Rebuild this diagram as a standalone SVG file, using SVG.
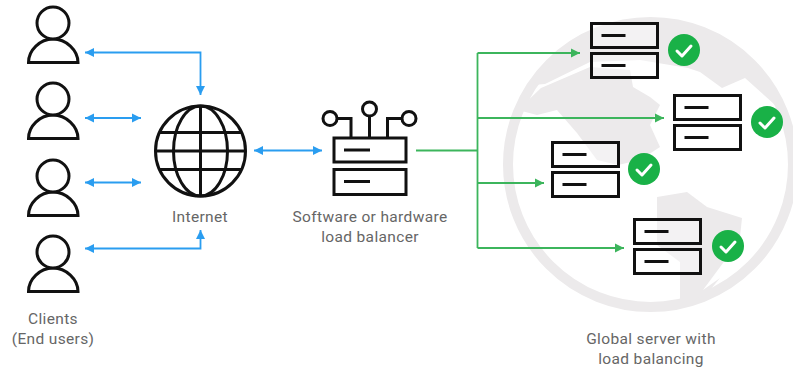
<svg xmlns="http://www.w3.org/2000/svg" width="793" height="370" viewBox="0 0 793 370">
<style>
.k{fill:none;stroke:#111;stroke-width:3}
.kf{fill:#fff;fill-opacity:.4;stroke:#111;stroke-width:3}
.b{fill:none;stroke:#2a9df0;stroke-width:1.8}
.g{fill:none;stroke:#3cb55c;stroke-width:1.8}
.t{font-family:Roboto,"Liberation Sans",sans-serif;font-size:15.5px;fill:#666;text-anchor:middle;letter-spacing:.35px}
.c{fill:#19b147}
.w{fill:none;stroke:#fff;stroke-width:3;stroke-linecap:round;stroke-linejoin:round}
.land{fill:#eceaeb}
</style>
<defs>
<marker id="ab" viewBox="0 0 10 10" refX="10" refY="5" markerWidth="9" markerHeight="10" markerUnits="userSpaceOnUse" orient="auto-start-reverse"><path d="M0 0L10 5L0 10Z" fill="#2a9df0"/></marker>
<marker id="ag" viewBox="0 0 10 10" refX="10" refY="5" markerWidth="9" markerHeight="10" markerUnits="userSpaceOnUse" orient="auto"><path d="M0 0L10 5L0 10Z" fill="#3cb55c"/></marker>
<g id="person"><path class="k" d="M28.500 62.500C28.500 50 40 39 53 39C66 39 78 50 78 62.500Z"/><circle cx="53" cy="23" r="16" fill="#fff" stroke="#111" stroke-width="3"/></g>
<g id="server"><rect class="kf" x="0" y="0" width="66" height="24"/><rect class="kf" x="0" y="30" width="66" height="24"/><path class="k" d="M10 12H34M10 42H34"/></g>
<g id="check"><circle class="c" r="16"/><path class="w" d="M-7 1L-2 6L7 -4"/></g>
</defs>
<g id="world">
<circle cx="650.500" cy="164.500" r="142.500" fill="none" stroke="#eceaeb" stroke-width="10"/>
<path class="land" d="M533 85A147.500 147.500 0 0 1 781 98L775 105L745 78L722 88L700 72L688 68L640 60L590 62L545 84Z"/>
<path class="land" d="M541 88L590 67L630 70L633 87L650 97L660 105L650 125L660 147L640 160L618 165L597 160L577 133L557 110L537 115L518 110Z"/>
<path class="land" d="M657 197L687 192L707 207L742 218L740 237L723 263L703 290L720 278L705 296L680 303L680 262L657 245Z"/>
</g>
<g id="connectors">
<path class="b" marker-start="url(#ab)" marker-end="url(#ab)" d="M85 52.500H200.500V95"/>
<path class="b" marker-start="url(#ab)" marker-end="url(#ab)" d="M85 118H141"/>
<path class="b" marker-start="url(#ab)" marker-end="url(#ab)" d="M85 182.500H141"/>
<path class="b" marker-start="url(#ab)" marker-end="url(#ab)" d="M85 248.500H200.500V230"/>
<path class="b" marker-start="url(#ab)" marker-end="url(#ab)" d="M254 150.500H322"/>
<path class="g" d="M416 150.500H477.500"/>
<path class="g" d="M477.500 53V248"/>
<path class="g" marker-end="url(#ag)" d="M477.500 53H580"/>
<path class="g" marker-end="url(#ag)" d="M477.500 118H664"/>
<path class="g" marker-end="url(#ag)" d="M477.500 183H544"/>
<path class="g" marker-end="url(#ag)" d="M477.500 248H624"/>
</g>
<g id="client1"><use href="#person"/></g>
<g id="client2"><use href="#person" y="76"/></g>
<g id="client3"><use href="#person" y="153"/></g>
<g id="client4"><use href="#person" y="229"/></g>
<text class="t" x="53" y="324">Clients</text>
<text class="t" x="53" y="344">(End users)</text>
<g id="internet">
<circle class="k" cx="200.500" cy="151" r="45"/>
<ellipse class="k" cx="200.500" cy="151" rx="27" ry="45"/>
<path class="k" d="M200.500 106V196M155.500 151H245.500M160 132.500H241M160 169.500H241"/>
<text class="t" x="200" y="222">Internet</text>
</g>
<g id="balancer">
<rect class="k" x="334" y="138" width="72" height="24"/>
<rect class="k" x="334" y="169.500" width="72" height="25"/>
<path class="k" d="M344 150H370M344 181.500H370M369.500 116V138M337 118.500H351V138M402 118.500H387.500V138"/>
<circle class="k" cx="369.500" cy="109" r="7"/>
<circle class="k" cx="330" cy="118.500" r="7"/>
<circle class="k" cx="409" cy="118.500" r="7"/>
<text class="t" x="370" y="222">Software or hardware</text>
<text class="t" x="370" y="242">load balancer</text>
</g>
<g id="server1"><use href="#server" x="591.500" y="23.500"/><use href="#check" x="684" y="50"/></g>
<g id="server2"><use href="#server" x="674.500" y="95.500"/><use href="#check" x="767" y="122"/></g>
<g id="server3"><use href="#server" x="552.500" y="142.500"/><use href="#check" x="644" y="169"/></g>
<g id="server4"><use href="#server" x="634.500" y="219.500"/><use href="#check" x="728" y="246"/></g>
<text class="t" x="651" y="344">Global server with</text>
<text class="t" x="651" y="364">load balancing</text>
</svg>
